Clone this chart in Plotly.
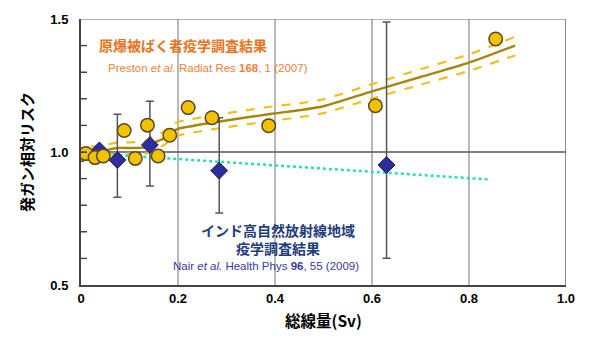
import plotly.graph_objects as go

# Atomic-bomb survivor data (circles)
ab_x = [0.0, 0.01, 0.029, 0.046, 0.089, 0.112, 0.137, 0.159, 0.183, 0.221, 0.270, 0.387, 0.607, 0.855]
ab_y = [0.99, 0.994, 0.979, 0.985, 1.081, 0.976, 1.101, 0.985, 1.063, 1.167, 1.129, 1.099, 1.174, 1.425]

# Fit curve and confidence band
fit_x = [0.02, 0.046, 0.073, 0.11, 0.135, 0.15, 0.17, 0.19, 0.2, 0.27, 0.39, 0.45, 0.5, 0.6, 0.7, 0.8, 0.895]
fit_y = [1.0, 1.005, 1.015, 1.015, 1.018, 1.035, 1.05, 1.078, 1.087, 1.11, 1.143, 1.157, 1.172, 1.228, 1.282, 1.336, 1.40]
fit_up = [1.02, 1.025, 1.035, 1.037, 1.042, 1.06, 1.075, 1.104, 1.113, 1.137, 1.17, 1.183, 1.198, 1.255, 1.311, 1.367, 1.433]
fit_lo = [0.98, 0.985, 0.995, 0.993, 0.995, 1.01, 1.025, 1.052, 1.062, 1.085, 1.116, 1.131, 1.146, 1.201, 1.253, 1.305, 1.363]

# India high natural background data (diamonds)
in_x = [0.038, 0.075, 0.142, 0.285, 0.630]
in_y = [1.006, 0.970, 1.026, 0.930, 0.951]
in_hi = [1.006, 1.142, 1.191, 1.129, 1.489]
in_lo = [1.006, 0.830, 0.872, 0.771, 0.601]

# India trend line
tr_x = [0.005, 0.839]
tr_y = [0.997, 0.897]

x_ticks = [0, 0.2, 0.4, 0.6, 0.8, 1.0]
x_labels = ["0", "0.2", "0.4", "0.6", "0.8", "1.0"]
y_ticks = [0.5, 0.6, 0.7, 0.8, 0.9, 1.0, 1.1, 1.2, 1.3, 1.4, 1.5]
y_labels = ["0.5", "", "", "", "", "1.0", "", "", "", "", "1.5"]

fig = go.Figure()

# vertical grid lines and horizontal reference line
for gx in [0.2, 0.4, 0.6, 0.8]:
    fig.add_shape(type="line", x0=gx, x1=gx, y0=0.5, y1=1.5, xref="x", yref="y",
                  line=dict(color="#8a8a8a", width=1.2), layer="below")
fig.add_shape(type="line", x0=0, x1=1, y0=1.0, y1=1.0, xref="x", yref="y",
              line=dict(color="#555555", width=1.5), layer="below")

# inward tick marks on the y axis, placed at the tick values
for ty in y_ticks[1:-1]:
    fig.add_shape(type="line", x0=0, x1=0.012, y0=ty, y1=ty, xref="paper", yref="y",
                  line=dict(color="#444444", width=1.4))

fig.add_trace(go.Scatter(x=fit_x, y=fit_up, mode="lines",
                         line=dict(color="#F0C020", width=2.2, dash="dash", shape="spline", smoothing=0.6),
                         hoverinfo="skip"))
fig.add_trace(go.Scatter(x=fit_x, y=fit_lo, mode="lines",
                         line=dict(color="#F0C020", width=2.2, dash="dash", shape="spline", smoothing=0.6),
                         hoverinfo="skip"))
fig.add_trace(go.Scatter(x=fit_x, y=fit_y, mode="lines",
                         line=dict(color="#A8860A", width=2.4, shape="spline", smoothing=0.6),
                         hoverinfo="skip"))
fig.add_trace(go.Scatter(x=tr_x, y=tr_y, mode="lines",
                         line=dict(color="#22E0B0", width=2.5, dash="dot"), hoverinfo="skip"))

err_plus = [h - v for h, v in zip(in_hi, in_y)]
err_minus = [v - l for v, l in zip(in_y, in_lo)]
fig.add_trace(go.Scatter(x=in_x, y=in_y, mode="markers",
                         marker=dict(symbol="diamond", size=13, color="#2E2E9A",
                                     line=dict(color="#1c1c6a", width=1)),
                         error_y=dict(type="data", symmetric=False, array=err_plus,
                                      arrayminus=err_minus, color="#555555",
                                      thickness=1.5, width=4)))
fig.add_trace(go.Scatter(x=ab_x, y=ab_y, mode="markers",
                         marker=dict(symbol="circle", size=13.5, color="#F2C100",
                                     line=dict(color="#5a4a20", width=1.5))))

cjk = "Noto Sans CJK JP"
fig.add_annotation(x=0.033, y=1.401, xref="x", yref="y", xanchor="left", yanchor="middle",
                   text="原爆被ばく者疫学調査結果", showarrow=False,
                   font=dict(family=cjk, size=14, color="#E8741C", weight="bold"))
fig.add_annotation(x=0.0515, y=1.3175, xref="x", yref="y", xanchor="left", yanchor="middle",
                   text="Preston <i>et al.</i> Radiat Res <b>168</b>, 1 (2007)", showarrow=False,
                   font=dict(family="Liberation Sans", size=11.5, color="#F08040"))
fig.add_annotation(x=0.406, y=0.673, xref="x", yref="y", xanchor="center", yanchor="middle",
                   text="インド高自然放射線地域<br>疫学調査結果", showarrow=False, align="center",
                   font=dict(family=cjk, size=14, color="#1F3C7C", weight="bold"))
fig.add_annotation(x=0.185, y=0.570, xref="x", yref="y", xanchor="left", yanchor="middle",
                   text="Nair <i>et al.</i> Health Phys <b>96</b>, 55 (2009)", showarrow=False,
                   font=dict(family="Liberation Sans", size=11.5, color="#3A3AA0"))

fig.update_layout(
    width=600, height=340,
    margin=dict(l=81, r=34, t=13, b=53),
    paper_bgcolor="white", plot_bgcolor="white",
    showlegend=False,
    xaxis=dict(range=[0, 1], tickvals=x_ticks, ticktext=x_labels, showgrid=False, zeroline=False,
               showline=True, linecolor="#444444", linewidth=2, mirror=False, ticks="",
               tickfont=dict(family="Liberation Sans", size=13, color="black", weight="bold"),
               title=dict(text="総線量(Sv)", standoff=12,
                          font=dict(family=cjk, size=15.5, color="black", weight="bold"))),
    yaxis=dict(range=[0.5, 1.5], tickvals=y_ticks, ticktext=y_labels,
               showgrid=False, zeroline=False,
               showline=True, linecolor="#444444", linewidth=2, ticks="inside", ticklen=6,
               tickwidth=1.4, tickcolor="#444444", ticklabelstandoff=8,
               tickfont=dict(family="Liberation Sans", size=13, color="black", weight="bold"),
               title=dict(text="発ガン相対リスク", standoff=13,
                          font=dict(family=cjk, size=15, color="black", weight="bold"))),
)
# top and right border
fig.add_shape(type="line", x0=0, x1=1, y0=1.5, y1=1.5, xref="x", yref="y",
              line=dict(color="#666666", width=1.2))
fig.add_shape(type="line", x0=1, x1=1, y0=0.5, y1=1.5, xref="x", yref="y",
              line=dict(color="#666666", width=1.5))

fig.write_html("out.html")
